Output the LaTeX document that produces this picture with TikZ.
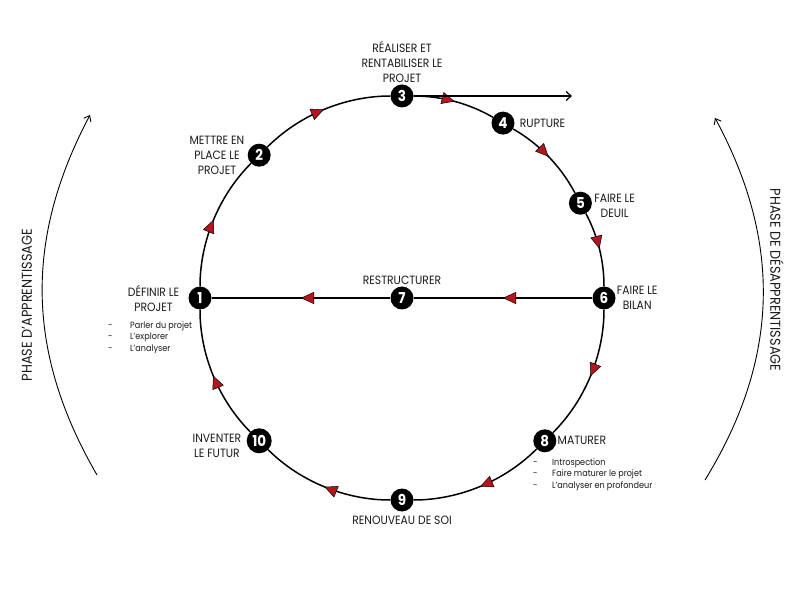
\documentclass[tikz,border=0pt]{standalone}
\usepackage{fontspec}
\setmainfont{Poppins}[FakeStretch=0.9]
\usetikzlibrary{positioning,arrows.meta,decorations.markings}
\definecolor{arrred}{HTML}{B3171D}
\definecolor{txtgray}{HTML}{1A1A1A}

\begin{document}
\begin{tikzpicture}[x=1pt,y=1pt]

    \tikzset{numstyle/.style={circle,fill=black,text=white,font=\fontsize{15}{15}\selectfont\bfseries,minimum size=23pt,inner sep=0pt},
        lblstyle/.style={align=center,inner sep=0pt,text=txtgray,font=\fontsize{12}{15}\selectfont},
        substyle/.style={align=left,inner sep=0pt,text=txtgray,font=\fontsize{9}{11.5}\selectfont},
        phasestyle/.style={inner sep=0pt,text=txtgray,font=\fontsize{14.3}{15}\selectfont},
        midtri/.style={postaction={decorate},decoration={markings,mark=at position 0.5 with {\arrow{Triangle[length=13pt,width=12pt,fill=arrred,line width=0.5pt]}}}}}
    \useasboundingbox (0,0) rectangle (800,600);

    \node[numstyle] (p1) at (200,302) {1};
    \node[numstyle] (p2) at (259.2,444.8) {2};
    \node[numstyle] (p3) at (402,504) {3};
    \node[numstyle] (p4) at (503,476.9) {4};
    \node[numstyle] (p5) at (580.4,396.8) {5};
    \node[numstyle] (p6) at (604,302) {6};
    \node[numstyle] (p7) at (402,302) {7};
    \node[numstyle] (p8) at (544.8,159.2) {8};
    \node[numstyle] (p9) at (402,100) {9};
    \node[numstyle,minimum size=25pt] (p10) at (259.2,159.2) {10};

    \node[lblstyle,above=2pt of p3] (l3) {RÉALISER ET\\RENTABILISER LE\\PROJET};
    \node[lblstyle,left=3pt of p2] (l2) {METTRE EN\\PLACE LE\\PROJET};
    \node[lblstyle,right=5pt of p4] (l4) {RUPTURE};
    \node[lblstyle,right=2pt of p5,yshift=-3pt] (l5) {FAIRE LE\\DEUIL};
    \node[lblstyle,left=9pt of p1] (l1) {DÉFINIR LE\\PROJET};
    \node[substyle,anchor=north west] (b1) at (108,279) {\makebox[22pt][l]{-}Parler du projet\\\makebox[22pt][l]{-}L’explorer\\\makebox[22pt][l]{-}L’analyser};
    \node[lblstyle,right=1pt of p6] (l6) {FAIRE LE\\BILAN};
    \node[lblstyle,above=2pt of p7] (l7) {RESTRUCTURER};
    \node[lblstyle,right=1pt of p8] (l8) {MATURER};
    \node[substyle,anchor=north west] (b8) at (533,142) {\makebox[19pt][l]{-}Introspection\\\makebox[19pt][l]{-}Faire maturer le projet\\\makebox[19pt][l]{-}L’analyser en profondeur};
    \node[lblstyle,below=4pt of p9] (l9) {RENOUVEAU DE SOI};
    \node[lblstyle,left=5pt of p10,yshift=-5pt] (l10) {INVENTER\\LE FUTUR};

    \node[phasestyle,rotate=90] (ph1) at (27,295) {PHASE D’APPRENTISSAGE};
    \node[phasestyle,rotate=-90] (ph2) at (777,320) {PHASE DE DÉSAPPRENTISSAGE};

    \coordinate (pout) at (572,504);
    \coordinate (lb) at (97,125);
    \coordinate (lt) at (90,485);
    \coordinate (rb) at (705,120);
    \coordinate (rt) at (715,482);

    \begin{scope}[every path/.style={line width=1.5pt,looseness=0.87}]
        \draw[midtri] (p1) to[bend left=22.5] (p2);
        \draw[midtri] (p2) to[bend left=22.5] (p3);
        \draw[midtri] (p3) to[bend left=15] (p4);
        \draw[midtri] (p4) to[bend left=16] (p5);
        \draw[midtri] (p5) to[bend left=14] (p6);
        \draw[midtri] (p6) to[bend left=22.5] (p8);
        \draw[midtri] (p8) to[bend left=22.5] (p9);
        \draw[midtri] (p9) to[bend left=22.5] (p10);
        \draw[midtri] (p10) to[bend left=22.5] (p1);
        \draw[midtri] (p6) -- (p7);
        \draw[midtri] (p7) -- (p1);
        \draw[-{Straight Barb[length=5pt,width=9pt]},line width=1.2pt] (p3) -- (pout);
    \end{scope}

    \begin{scope}[every path/.style={-{Straight Barb[length=5pt,width=8pt]},line width=0.9pt}]
        \draw (lb) to[bend left=29] (lt);
        \draw (rb) to[bend right=30] (rt);
    \end{scope}
\end{tikzpicture}
\end{document}
